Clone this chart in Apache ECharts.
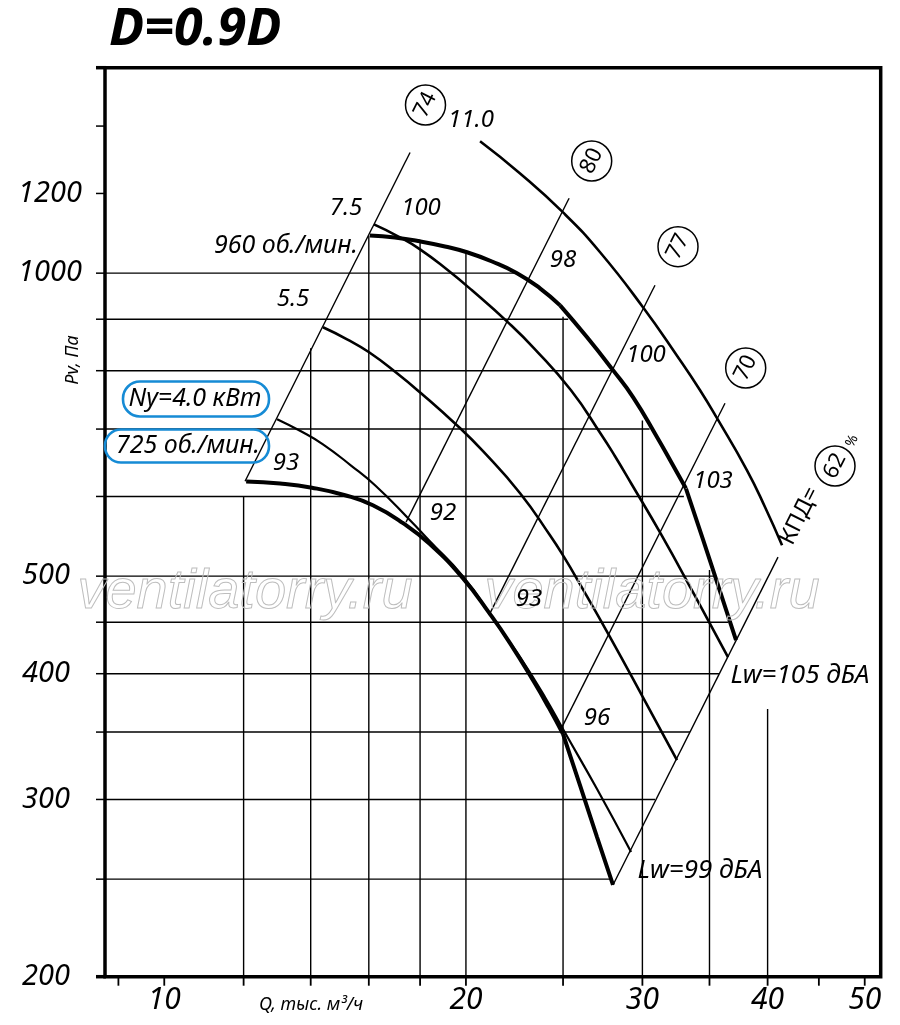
<!DOCTYPE html>
<html><head><meta charset="utf-8">
<script src="https://cdn.jsdelivr.net/npm/echarts@6/dist/echarts.min.js"></script>
<style>html,body{margin:0;padding:0;background:#fff}#c{width:900px;height:1025px}</style>
</head><body><div id="c"></div>
<script>
// ---------- axis ranges & ticks ----------
const Q_MIN = 8.727, Q_MAX = 51.87, P_MIN = 200, P_MAX = 1600;
const xTicks = [9,10,12,14,16,18,20,25,30,35,40,45,50];
const xLabels = [10,20,30,40,50];
const yTicks = [200,250,300,350,400,450,500,600,700,800,900,1000,1200,1400,1600];
const yLabels = [200,300,400,500,1000,1200];

// ---------- grid lines (clipped to working field) ----------
const hGridP    = [250,300,350,400,450,500,600,700,800,900,1000];
const hGridQEnd = [27.98,30.88,33.47,35.77,36.52,35.45,33.0,30.5,28.07,25.3,22.45];
const vGridQ    = [12,14,16,18,20,25,30,35,40];
const vGridPTop = [600,842,1090,1074,1049,905,714,507,369];

// ---------- fan curves (Q тыс. м3/ч, Pv Па) ----------
// 960 об./мин. (thick), three pieces
const c960aQ = [16.04,16.99,18.0,19.06,20.05,21.24,22.49,23.71,24.83];
const c960aP = [1090,1085,1075.5,1063,1049,1027,1000,966,929];
const c960bQ = [24.83,26.42,28.04,29.36,31.03,32.11,33.16];
const c960bP = [929,863.5,801,753,687,647,611];
const c960cQ = [33.16,34.48,35.86,37.2];
const c960cP = [611,544,483,432];
// 725 об./мин. (thick), two pieces
const c725aQ = [12.07,13.05,14.04,15.15,16.15,17.31,18.41,19.86,21.14,22.13,23.39,24.21,25.0];
const c725aP = [621,618,612.1,601.7,588,564.4,538,497.7,458.4,429,392.4,369.7,348.4];
const c725bQ = [25.0,25.99,27.03,28.04];
const c725bP = [348.4,310,275.3,246.7];
// thin curves
const cAQ = [12.96,13.69,14.40,15.36,16.23,17.55,18.41,19.86,21.48,22.65,23.99,25.06,27.03,29.23];
const cAP = [716,696.5,676,644,615.6,569.6,541.6,500,448,415.4,379,350.8,307.2,266];
const cBQ = [14.40,15.22,16.01,17.07,18.04,19.59,20.80,22.65,24.26,25.06,25.99,27.85,30.04,32.48];
const cBP = [883.5,859.6,834.4,795.3,759.8,706.1,665.4,604.5,549,522.2,491,435,379,328.3];
const cCQ = [16.19,17.11,18.0,19.19,20.28,22.03,23.39,25.46,27.28,28.17,29.23,31.31,33.78,36.52];
const cCP = [1118,1088,1056,1006.5,961.5,893.5,842,765,691.8,657.8,618.4,550.4,479.8,415.4];
const cDQ = [20.66,22.65,25.0,27.22,30.04,32.56,34.25,35.61,38.15,39.77,41.35];
const cDP = [1352,1256,1149,1049,925,825,765,717.6,637,585.4,536.7];

// ---------- system (efficiency) lines: start / end ----------
const sysQ1 = [12.04,17.43,21.09,24.88,28.04];
const sysP1 = [621.3,565.7,457.3,352.4,246.7];
const sysQ2 = [17.59,25.35,30.88,36.27,40.97];
const sysP2 = [1318,1187,972.6,742.6,522.2];

const FF = '"Noto Sans", "DejaVu Sans", sans-serif';

function ser(qs, ps, width, smooth, z) {
  return {type:'line', data: qs.map((q,i)=>[q, ps[i]]), symbol:'none', showSymbol:false,
    smooth: smooth, lineStyle:{color:'#000', width: width}, silent:true, z: z, animation:false};
}
const seriesList = [];
hGridP.forEach((p,i)=>seriesList.push(ser([Q_MIN, hGridQEnd[i]],[p,p],1.4,false,1)));
vGridQ.forEach((q,i)=>seriesList.push(ser([q,q],[P_MIN, vGridPTop[i]],1.4,false,1)));
sysQ1.forEach((q,i)=>seriesList.push(ser([q, sysQ2[i]],[sysP1[i], sysP2[i]],1.4,false,2)));
seriesList.push(ser(cAQ, cAP, 2.2, 0.5, 3));
seriesList.push(ser(cBQ, cBP, 2.6, 0.5, 3));
seriesList.push(ser(cCQ, cCP, 2.6, 0.5, 3));
seriesList.push(ser(cDQ, cDP, 2.6, 0.5, 3));
seriesList.push(ser(c725aQ, c725aP, 4, 0.5, 4));
seriesList.push(ser(c725bQ, c725bP, 4, 0.5, 4));
seriesList.push(ser(c960aQ, c960aP, 4, 0.5, 4));
seriesList.push(ser(c960bQ, c960bP, 4, 0.5, 4));
seriesList.push(ser(c960cQ, c960cP, 4, 0.5, 4));

const chart = echarts.init(document.getElementById('c'), null, {renderer:'canvas'});
const hideAx = {axisLine:{show:false}, axisTick:{show:false}, axisLabel:{show:false}, splitLine:{show:false}};
chart.setOption({
  animation:false,
  grid:{left:105, right:19.3, top:67.7, bottom:48.3, show:true, borderColor:'#000', borderWidth:3.5},
  xAxis:Object.assign({type:'log', logBase:10, min:Q_MIN, max:Q_MAX}, hideAx),
  yAxis:Object.assign({type:'log', logBase:10, min:P_MIN, max:P_MAX}, hideAx),
  series: seriesList
});

// ---------- decorations ----------
const g = [];
const px = (q,p)=>chart.convertToPixel({gridIndex:0},[q,p]);
const x0 = px(Q_MIN,P_MIN)[0], y0 = px(Q_MIN,P_MIN)[1];
function T(x,y,text,size,o){
  o = o||{};
  const st = {text:text, font:(o.weight||'normal')+' '+(o.style||'italic')+' '+size+'px '+(o.family||FF),
    fill:o.fill||'#000', align:o.align||'center', verticalAlign:'middle',
    textAlign:o.align||'center', textVerticalAlign:'middle', x:0, y:0};
  if (o.stroke){ st.stroke=o.stroke; st.lineWidth=o.lw||1; }
  return {type:'text', x:x, y:y, rotation:o.rot||0, z:o.z||20, silent:true, style:st};
}
xTicks.forEach(v=>{ const x = px(v,P_MIN)[0];
  g.push({type:'line', z:20, silent:true, shape:{x1:x,y1:y0,x2:x,y2:y0+9}, style:{stroke:'#000', lineWidth:1.8}}); });
yTicks.forEach(v=>{ const y = px(Q_MIN,v)[1]; const edge = (v===P_MIN||v===P_MAX);
  g.push({type:'line', z:20, silent:true, shape:{x1:x0-9,y1:y,x2:edge?x0+1:x0,y2:y}, style:{stroke:'#000', lineWidth: edge?3.5:1.5}}); });
xLabels.forEach(v=>{ g.push(T(px(v,P_MIN)[0], y0+24, String(v), 30)); });
yLabels.forEach(v=>{ const y = px(Q_MIN,v)[1];
  g.push(T(v>=1000?82:70, y, String(v), 29, {align:'right'})); });

// title & axis names
g.push(T(109, 30, 'D=0.9D', 52, {align:'left', weight:'bold'}));
g.push(T(73, 360, 'Pv, Па', 18, {rot:Math.PI/2}));
g.push(T(311, 1005, 'Q, тыс. м³/ч', 18));

// watermark
g.push(T(245, 592, 'ventilatorry.ru', 56, {family:'"Liberation Sans", Arial, sans-serif', fill:'none', stroke:'#bdbdbd', lw:1, z:15}));
g.push(T(652, 592, 'ventilatorry.ru', 56, {family:'"Liberation Sans", Arial, sans-serif', fill:'none', stroke:'#bdbdbd', lw:1, z:15}));

// curve annotations
const ann = [
  ['960 об./мин.', 358, 246, 25, 'right'],
  ['7.5', 346, 208, 24], ['100', 421, 208, 24], ['5.5', 293, 299, 24], ['11.0', 471, 120, 24],
  ['93', 286, 463, 24], ['92', 443, 513, 24], ['98', 563, 260, 24], ['100', 646, 355, 24],
  ['103', 713, 481, 24], ['93', 529, 599, 24], ['96', 597, 718, 24],
  ['Lw=105 дБА', 800, 676, 26], ['Lw=99 дБА', 700, 871, 26]
];
ann.forEach(a=>g.push(T(a[1], a[2], a[0], a[3], {align:a[4]||'center'})));

// boxed labels
const BLUE = '#168bd5';
g.push({type:'rect', z:20, silent:true, shape:{x:123, y:381.5, width:146, height:35, r:17}, style:{fill:'none', stroke:BLUE, lineWidth:2.6}});
g.push({type:'rect', z:20, silent:true, shape:{x:105, y:429.5, width:164, height:33, r:16}, style:{fill:'none', stroke:BLUE, lineWidth:2.6}});
g.push(T(195, 399, 'Ny=4.0 кВт', 25));
g.push(T(188, 446, '725 об./мин.', 25));

// circled efficiency marks
const ROT = Math.atan(2);
[[425.5,105,'74'],[591.7,161,'80'],[678,246.7,'77'],[745.7,368,'70'],[835,466,'62']].forEach(c=>{
  g.push({type:'circle', z:20, silent:true, shape:{cx:c[0], cy:c[1], r:20}, style:{fill:'none', stroke:'#000', lineWidth:1.5}});
  g.push(T(c[0], c[1], c[2], 22, {rot:ROT, style:'normal'}));
});
g.push(T(800, 516, 'КПД=', 23, {rot:ROT, style:'normal'}));
g.push(T(852, 441, '%', 14, {rot:ROT, style:'normal'}));

chart.setOption({graphic:{elements:g}});
</script></body></html>
